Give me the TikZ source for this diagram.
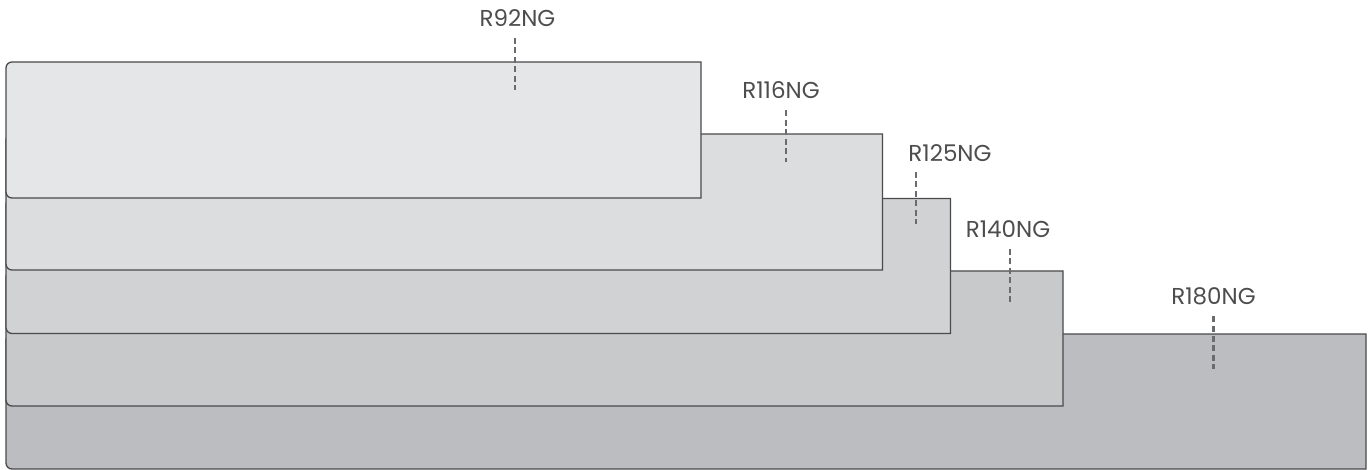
\documentclass[tikz,border=0pt]{standalone}
\usepackage{fontspec}
\setmainfont{Poppins}
\definecolor{edge}{HTML}{4A4A4C}
\definecolor{txt}{HTML}{4D4D4F}
\definecolor{dsh}{HTML}{6A6B6E}
\definecolor{fa}{HTML}{E5E6E8}
\definecolor{fb}{HTML}{DCDDDF}
\definecolor{fc}{HTML}{D1D2D4}
\definecolor{fd}{HTML}{C8C9CB}
\definecolor{fe}{HTML}{BCBDC0}
\tikzset{
  slab/.style={draw=edge, line width=1.3pt, line join=miter},
  lbl/.style={text=txt, font=\fontsize{23}{26}\selectfont, inner sep=0pt, anchor=center},
  leader/.style={draw=dsh, line width=2.4pt, dash pattern=on 6pt off 3.5pt}
}
\newcommand{\slabpath}[5]{% fill, left, top, right, bottom (y negative)
  \path[slab, fill=#1] (#4,#3) -- (#2+6,#3) arc[start angle=90,end angle=180,radius=6]
    -- (#2,#5+6) arc[start angle=180,end angle=270,radius=6] -- (#4,#5) -- cycle;}
\begin{document}
\begin{tikzpicture}[x=1pt,y=1pt]
\useasboundingbox (0,0) rectangle (1368,-470);
% slabs, bottom first
\slabpath{fe}{6}{-334}{1366}{-469}
\slabpath{fd}{6}{-271}{1063}{-406}
\slabpath{fc}{6}{-198.5}{950.5}{-333.5}
\slabpath{fb}{6}{-134}{882.5}{-270}
\slabpath{fa}{6}{-62}{701}{-198}
% labels
\node[lbl] (l1) at (517.5,-18) {R92NG};
\node[lbl] (l2) at (781,-90.5) {R116NG};
\node[lbl] (l3) at (950,-153) {R125NG};
\node[lbl] (l4) at (1008,-229) {R140NG};
\node[lbl] (l5) at (1213.5,-296) {R180NG};
% leader ends
\coordinate (s1) at (515,-38);   \coordinate (e1) at (515,-90);
\coordinate (s2) at (785.7,-110.5); \coordinate (e2) at (785.7,-162);
\coordinate (s3) at (916,-172);  \coordinate (e3) at (916,-224.5);
\coordinate (s4) at (1009.7,-249); \coordinate (e4) at (1009.7,-302);
\coordinate (s5) at (1213.3,-316.5); \coordinate (e5) at (1213.3,-368.5);
\draw[leader] (s1) -- (e1);
\draw[leader] (s2) -- (e2);
\draw[leader] (s3) -- (e3);
\draw[leader] (s4) -- (e4);
\draw[leader] (s5) -- (e5);
\end{tikzpicture}
\end{document}
